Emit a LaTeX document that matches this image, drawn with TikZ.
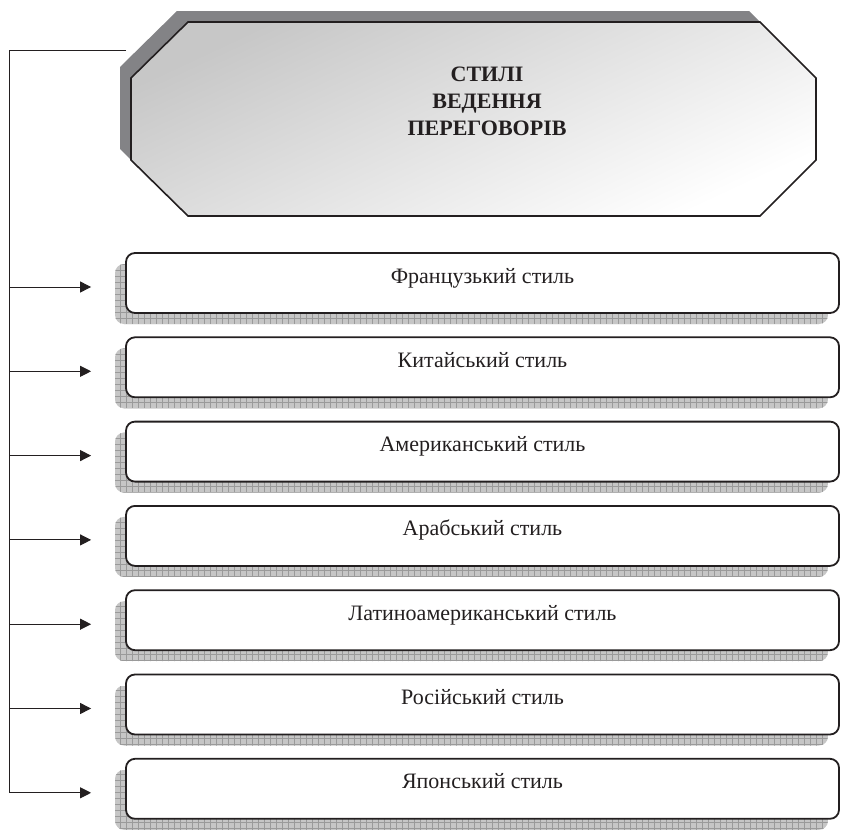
\documentclass[tikz,border=0pt]{standalone}
\usepackage{fontspec}
\setmainfont{Liberation Serif}
\usetikzlibrary{arrows.meta}
\definecolor{octshadow}{HTML}{838386}
\definecolor{gridfill}{HTML}{C6C6C6}
\definecolor{gridline}{HTML}{9A9A9A}
\definecolor{inkdark}{HTML}{231F20}
\tikzset{
  stylebox/.style={draw=inkdark, line width=1.8pt, rounded corners=9pt, fill=white,
    minimum width=713pt, minimum height=60pt, text height=7pt, text depth=7pt,
    inner sep=0pt, font=\fontsize{22}{26}\selectfont, text=inkdark},
  feed/.style={-{Triangle[length=11pt,width=11pt]}, line width=1pt, draw=inkdark}
}
\begin{document}
\begin{tikzpicture}[x=1pt,y=-1pt]
\useasboundingbox (0,0) rectangle (841,830);
\fill[octshadow] (177,11) -- (749,11) -- (805,67) -- (805,149) -- (749,205) -- (177,205) -- (120,149) -- (120,67) -- cycle;
\shadedraw[top color=black!22, bottom color=white, shading angle=25, draw=inkdark, line width=1.6pt]
  (188,22) -- (760,22) -- (816,78) -- (816,160) -- (760,216) -- (188,216) -- (131,160) -- (131,78) -- cycle;
\node[font=\bfseries\fontsize{22}{27}\selectfont, align=center, text=inkdark] (title) at (487,101) {СТИЛІ\\ВЕДЕННЯ\\ПЕРЕГОВОРІВ};
\coordinate (head) at (126,50);
\coordinate (corner) at (9,50);
\foreach \txt [count=\i] in {Французький стиль, Китайський стиль, Американський стиль, Арабський стиль, Латиноамериканський стиль, Російський стиль, Японський стиль} {
  \pgfmathsetmacro\yc{283+84.3*(\i-1)}
  \begin{scope}
    \clip[rounded corners=9pt] (115,\yc-19) rectangle (828,\yc+41);
    \fill[gridfill] (115,\yc-19) rectangle (828,\yc+41);
    \draw[gridline, line width=0.6pt, step=6pt] (112,\yc-22) grid (830,\yc+44);
  \end{scope}
  \node[stylebox] (s\i) at (482.5,\yc) {\txt};
  \coordinate (t\i) at ([xshift=-34pt,yshift=-4pt]s\i.west);
  \draw[feed] (t\i -| corner) -- (t\i);
}
\draw[line width=1pt, draw=inkdark] (head) -- (corner) -- (t7 -| corner);
\end{tikzpicture}
\end{document}
